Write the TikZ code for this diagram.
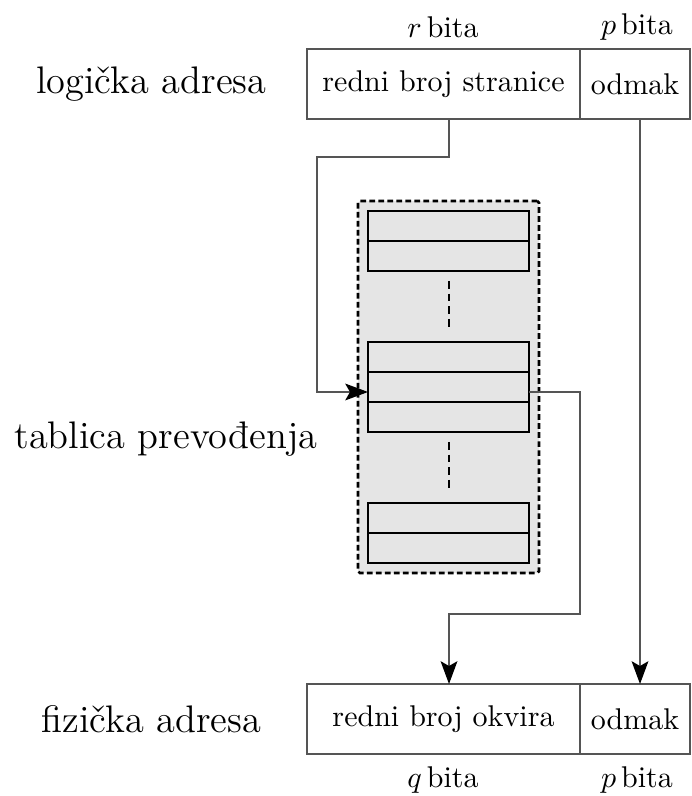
\documentclass[tikz,border=0pt]{standalone}
\usetikzlibrary{arrows.meta,calc}
\newdimen\pxu \pxu=0.3333pt
\definecolor{boxgray}{RGB}{229,229,229}
\definecolor{linegray}{RGB}{85,85,85}
\begin{document}
\begin{tikzpicture}[x=0.3333pt,y=-0.3333pt,
  cell/.style={draw=linegray,line width=0.35pt,inner sep=0pt,minimum height=70\pxu,font=\fontsize{10}{12}\selectfont},
  row/.style={draw=black,line width=0.35pt,fill=boxgray,inner sep=0pt,minimum width=161\pxu,minimum height=30\pxu},
  biglabel/.style={font=\fontsize{12.8}{15}\selectfont,inner sep=0pt},
  bits/.style={font=\fontsize{10}{12}\selectfont,inner sep=0pt},
  conn/.style={draw=linegray,line width=0.4pt},
  tip/.style={-{Stealth[length=7.6pt,width=5.6pt,inset=1.6pt,color=black,fill=black]}},
  outer/.style={draw=black,line width=0.85pt,dash pattern=on 1.9pt off 1.1pt,rounded corners=0.6pt,fill=boxgray,inner sep=0pt,minimum width=181\pxu,minimum height=372\pxu},
  vdots/.style={draw=black,line width=0.75pt,dash pattern=on 2.6pt off 1.6pt}]
\useasboundingbox (0,0) rectangle (691,796);
% top logical address
\node[cell,minimum width=273\pxu] (rbs) at (443.5,84) {redni broj stranice};
\node[cell,minimum width=110\pxu] (odm1) at (635,84) {odmak};
\node[bits] (rb) at (443,27) {$r$\,bita};
\node[bits] (pb1) at (637,27) {$p$\,bita};
\node[biglabel] (la) at (151.5,84.5) {logička adresa};
% table
\node[outer] (tab) at (448.5,387) {};
\node[row] (a1) at (448.5,226) {};
\node[row] (a2) at (448.5,256) {};
\node[row] (m1) at (448.5,357) {};
\node[row] (m2) at (448.5,387) {};
\node[row] (m3) at (448.5,417) {};
\node[row] (b1) at (448.5,518) {};
\node[row] (b2) at (448.5,548) {};
\coordinate (d1t) at (449,281); \coordinate (d1b) at (449,327);
\coordinate (d2t) at (449,442); \coordinate (d2b) at (449,488);
\draw[vdots] (d1t) -- (d1b);
\draw[vdots] (d2t) -- (d2b);
\node[biglabel] (tp) at (166,439) {tablica prevođenja};
% bottom physical address
\node[cell,minimum width=273\pxu] (rbo) at (443.5,719) {redni broj okvira};
\node[cell,minimum width=110\pxu] (odm2) at (635,719) {odmak};
\node[bits] (qb) at (443,780) {$q$\,bita};
\node[bits] (pb2) at (637,780) {$p$\,bita};
\node[biglabel] (fa) at (151.5,719.5) {fizička adresa};
% connectors
\coordinate (s1) at (449,119);
\coordinate (in) at (368,392);
\coordinate (out) at (529,392);
\coordinate (e1) at (449,684);
\coordinate (s2) at (640,119);
\coordinate (e2) at (640,684);
\draw[conn,tip] (s1) -- (449,157) -- (317,157) -- (317,392) -- (in);
\draw[conn,tip] (out) -- (580,392) -- (580,614) -- (449,614) -- (e1);
\draw[conn,tip] (s2) -- (e2);
\end{tikzpicture}
\end{document}
